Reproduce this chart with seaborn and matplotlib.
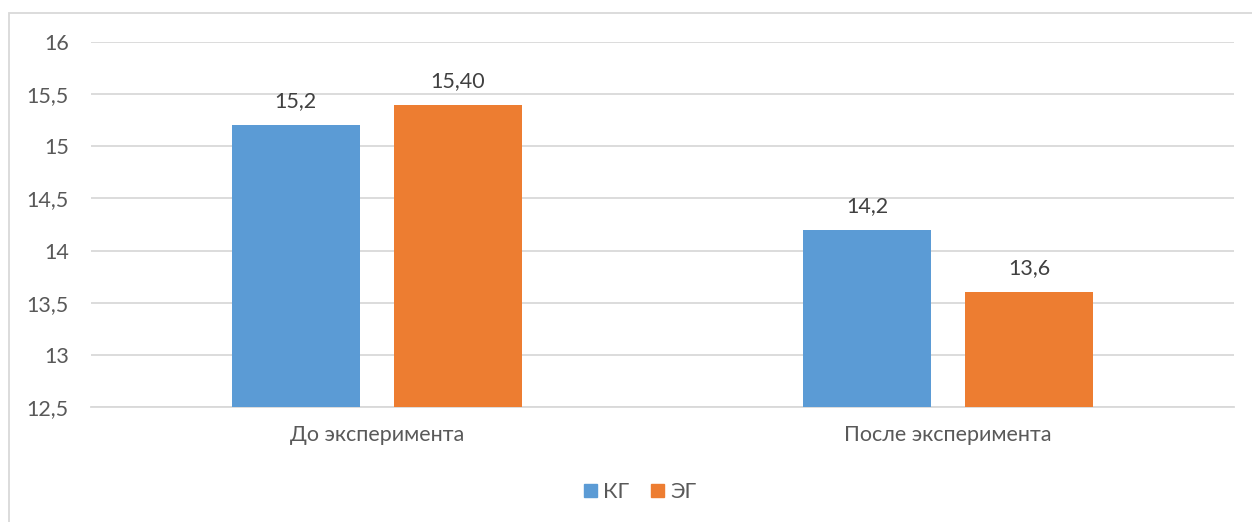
import matplotlib
matplotlib.use("Agg")
import matplotlib.pyplot as plt
import matplotlib.ticker as mticker
from matplotlib.patches import Rectangle
import seaborn as sns
import pandas as pd

# Data
categories = ["До эксперимента", "После эксперимента"]
groups = ["КГ", "ЭГ"]
kg_values = [15.2, 14.2]
eg_values = [15.4, 13.6]
value_labels_kg = ["15,2", "14,2"]
value_labels_eg = ["15,40", "13,6"]
y_ticks = [12.5, 13, 13.5, 14, 14.5, 15, 15.5, 16]

colors = {"КГ": "#5B9BD5", "ЭГ": "#ED7D31"}

df = pd.DataFrame({
    "Этап": categories * 2,
    "Группа": [groups[0]] * len(categories) + [groups[1]] * len(categories),
    "Значение": kg_values + eg_values,
})

sns.set_theme(style="white")
plt.rcParams["font.family"] = ["Lato", "DejaVu Sans"]

fig = plt.figure(figsize=(12.52, 5.22), dpi=100)
ax = fig.add_axes([91 / 1252, 1 - 407 / 522, (1234 - 91) / 1252, (407 - 42) / 522])

sns.barplot(data=df, x="Этап", y="Значение", hue="Группа", order=categories,
            hue_order=groups, palette=colors, width=0.567, gap=0.21,
            saturation=1, ax=ax, legend=False, zorder=3, linewidth=0)

ax.set_ylim(12.5, 16)
ax.set_xlim(-0.5, 1.5)
ax.set_yticks(y_ticks)
ax.yaxis.set_major_formatter(mticker.FuncFormatter(
    lambda v, _: (f"{v:g}").replace(".", ",")))
ax.grid(axis="y", color="#D9D9D9", linewidth=1.3, zorder=0)
ax.set_axisbelow(True)
for s in ax.spines.values():
    s.set_visible(False)
ax.spines["bottom"].set_visible(True)
ax.spines["bottom"].set_color("#D9D9D9")
ax.spines["bottom"].set_linewidth(1.3)
ax.tick_params(axis="y", length=0, pad=16, labelsize=15.5, labelcolor="#595959")
ax.tick_params(axis="x", length=0, pad=13, labelsize=15.5, labelcolor="#595959")
ax.set_xlabel("")
ax.set_ylabel("")

# Value labels over the bars
for container, labels in zip(ax.containers, [value_labels_kg, value_labels_eg]):
    ax.bar_label(container, labels=labels, padding=10, fontsize=15.5, color="#404040")

# Legend below the plot
handles = [Rectangle((0, 0), 1, 1, color=colors[g]) for g in groups]
fig.legend(handles, groups, loc="center", bbox_to_anchor=(640 / 1252, 1 - 492 / 522),
           ncol=2, frameon=False, fontsize=15.5, labelcolor="#595959",
           handlelength=0.6, handleheight=0.6, handletextpad=0.3, columnspacing=1.0)

# Chart frame
fig.patches.append(Rectangle((9 / 1252, -0.05), 1.2, 1 - 13 / 522 + 0.05,
                             transform=fig.transFigure, fill=False,
                             edgecolor="#D9D9D9", linewidth=1.3))

fig.savefig("out.png", dpi=100, facecolor="white")
